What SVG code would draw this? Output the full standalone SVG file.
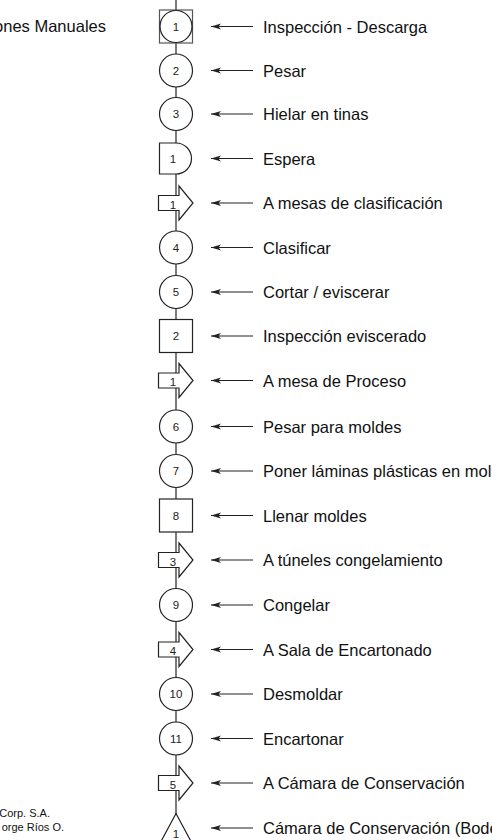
<svg xmlns="http://www.w3.org/2000/svg" width="492" height="840" viewBox="0 0 492 840">
  <style>
    .shape { fill: #fff; stroke: #222; stroke-width: 1.2; }
    .num { font-family: "Liberation Sans", Arial, sans-serif; font-size: 11.5px; fill: #222; text-anchor: middle; }
    .lbl { font-family: "Liberation Sans", Arial, sans-serif; font-size: 16.5px; fill: #111; }
    .side { font-family: "Liberation Sans", Arial, sans-serif; font-size: 11px; fill: #111; }
    .flow { stroke: #222; stroke-width: 1.2; fill: none; }
    .lead { stroke: #222; stroke-width: 1.2; fill: none; marker-end: url(#head); }
  </style>
  <defs>
    <marker id="head" markerWidth="11" markerHeight="7" refX="10" refY="3.5" orient="auto" markerUnits="userSpaceOnUse">
      <path d="M0,0.5 L10,3.5 L0,6.5 L2.5,3.5 Z" fill="#222"/>
    </marker>
  </defs>
  <rect width="492" height="840" fill="#fff"/>

  <!-- side notes -->
  <text class="lbl" x="106" y="32" text-anchor="end">ones Manuales</text>
  <text class="side" x="50" y="817" text-anchor="end">Corp. S.A.</text>
  <text class="side" x="64" y="831" text-anchor="end">orge Ríos O.</text>

  <!-- connectors: main flow line and label leaders -->
  <g id="connectors">
    <line class="flow" x1="176" y1="0" x2="176" y2="814"/>
    <line class="lead" x1="253" y1="26.5" x2="211" y2="26.5"/>
    <line class="lead" x1="253" y1="70.5" x2="211" y2="70.5"/>
    <line class="lead" x1="253" y1="114" x2="211" y2="114"/>
    <line class="lead" x1="253" y1="158.5" x2="211" y2="158.5"/>
    <line class="lead" x1="253" y1="203" x2="211" y2="203"/>
    <line class="lead" x1="253" y1="247.5" x2="211" y2="247.5"/>
    <line class="lead" x1="253" y1="292" x2="211" y2="292"/>
    <line class="lead" x1="253" y1="336" x2="211" y2="336"/>
    <line class="lead" x1="253" y1="380.5" x2="211" y2="380.5"/>
    <line class="lead" x1="253" y1="426.5" x2="211" y2="426.5"/>
    <line class="lead" x1="253" y1="471" x2="211" y2="471"/>
    <line class="lead" x1="253" y1="515.5" x2="211" y2="515.5"/>
    <line class="lead" x1="253" y1="560" x2="211" y2="560"/>
    <line class="lead" x1="253" y1="605" x2="211" y2="605"/>
    <line class="lead" x1="253" y1="649.5" x2="211" y2="649.5"/>
    <line class="lead" x1="253" y1="694" x2="211" y2="694"/>
    <line class="lead" x1="253" y1="738.5" x2="211" y2="738.5"/>
    <line class="lead" x1="253" y1="783" x2="211" y2="783"/>
    <line class="lead" x1="253" y1="828" x2="211" y2="828"/>
  </g>

  <!-- steps -->
  <g id="n01">
    <rect class="shape" x="159.5" y="10" width="33" height="33" style="stroke:#555"/>
    <circle class="shape" cx="176" cy="26.5" r="16"/>
    <text class="num" x="176" y="30.5">1</text>
    <text class="lbl" x="263" y="32.5">Inspección - Descarga</text>
  </g>
  <g id="n02">
    <circle class="shape" cx="176" cy="70.5" r="16.5"/>
    <text class="num" x="176" y="74.5">2</text>
    <text class="lbl" x="263" y="76.5">Pesar</text>
  </g>
  <g id="n03">
    <circle class="shape" cx="176" cy="114" r="16.5"/>
    <text class="num" x="176" y="118">3</text>
    <text class="lbl" x="263" y="120">Hielar en tinas</text>
  </g>
  <g id="n04">
    <path class="shape" d="M159.5,143 H176 A15.5,15.5 0 0 1 176,174 H159.5 Z"/>
    <text class="num" x="173" y="162.5">1</text>
    <text class="lbl" x="263" y="164.5">Espera</text>
  </g>
  <g id="n05">
    <path class="shape" d="M158.5,195.5 H179 V186 L193,203 L179,220 V210.5 H158.5 Z"/>
    <text class="num" x="173" y="208.5">1</text>
    <text class="lbl" x="263" y="209">A mesas de clasificación</text>
  </g>
  <g id="n06">
    <circle class="shape" cx="176" cy="247.5" r="16.5"/>
    <text class="num" x="176" y="251.5">4</text>
    <text class="lbl" x="263" y="253.5">Clasificar</text>
  </g>
  <g id="n07">
    <circle class="shape" cx="176" cy="292" r="16.5"/>
    <text class="num" x="176" y="296">5</text>
    <text class="lbl" x="263" y="298">Cortar / eviscerar</text>
  </g>
  <g id="n08">
    <rect class="shape" x="159.5" y="319.5" width="33" height="33"/>
    <text class="num" x="176" y="340">2</text>
    <text class="lbl" x="263" y="342">Inspección eviscerado</text>
  </g>
  <g id="n09">
    <path class="shape" d="M158.5,373 H179 V363.5 L193,380.5 L179,397.5 V388 H158.5 Z"/>
    <text class="num" x="173" y="386">1</text>
    <text class="lbl" x="263" y="386.5">A mesa de Proceso</text>
  </g>
  <g id="n10">
    <circle class="shape" cx="176" cy="426.5" r="16.5"/>
    <text class="num" x="176" y="430.5">6</text>
    <text class="lbl" x="263" y="432.5">Pesar para moldes</text>
  </g>
  <g id="n11">
    <circle class="shape" cx="176" cy="471" r="16.5"/>
    <text class="num" x="176" y="475">7</text>
    <text class="lbl" x="263" y="477">Poner láminas plásticas en mol</text>
  </g>
  <g id="n12">
    <rect class="shape" x="159.5" y="499" width="33" height="33"/>
    <text class="num" x="176" y="519.5">8</text>
    <text class="lbl" x="263" y="521.5">Llenar moldes</text>
  </g>
  <g id="n13">
    <path class="shape" d="M158.5,552.5 H179 V543 L193,560 L179,577 V567.5 H158.5 Z"/>
    <text class="num" x="173" y="565.5">3</text>
    <text class="lbl" x="263" y="566">A túneles congelamiento</text>
  </g>
  <g id="n14">
    <circle class="shape" cx="176" cy="605" r="16.5"/>
    <text class="num" x="176" y="609">9</text>
    <text class="lbl" x="263" y="611">Congelar</text>
  </g>
  <g id="n15">
    <path class="shape" d="M158.5,642 H179 V632.5 L193,649.5 L179,666.5 V657 H158.5 Z"/>
    <text class="num" x="173" y="655">4</text>
    <text class="lbl" x="263" y="655.5">A Sala de Encartonado</text>
  </g>
  <g id="n16">
    <circle class="shape" cx="176" cy="694" r="16.5"/>
    <text class="num" x="176" y="698">10</text>
    <text class="lbl" x="263" y="700">Desmoldar</text>
  </g>
  <g id="n17">
    <circle class="shape" cx="176" cy="738.5" r="16.5"/>
    <text class="num" x="176" y="742.5">11</text>
    <text class="lbl" x="263" y="744.5">Encartonar</text>
  </g>
  <g id="n18">
    <path class="shape" d="M158.5,775.5 H179 V766 L193,783 L179,800 V790.5 H158.5 Z"/>
    <text class="num" x="173" y="788.5">5</text>
    <text class="lbl" x="263" y="789">A Cámara de Conservación</text>
  </g>
  <g id="n19">
    <path class="shape" d="M176,813.5 L194,847 L158,847 Z"/>
    <text class="num" x="176" y="838">1</text>
    <text class="lbl" x="263" y="834">Cámara de Conservación (Bode</text>
  </g>
</svg>
